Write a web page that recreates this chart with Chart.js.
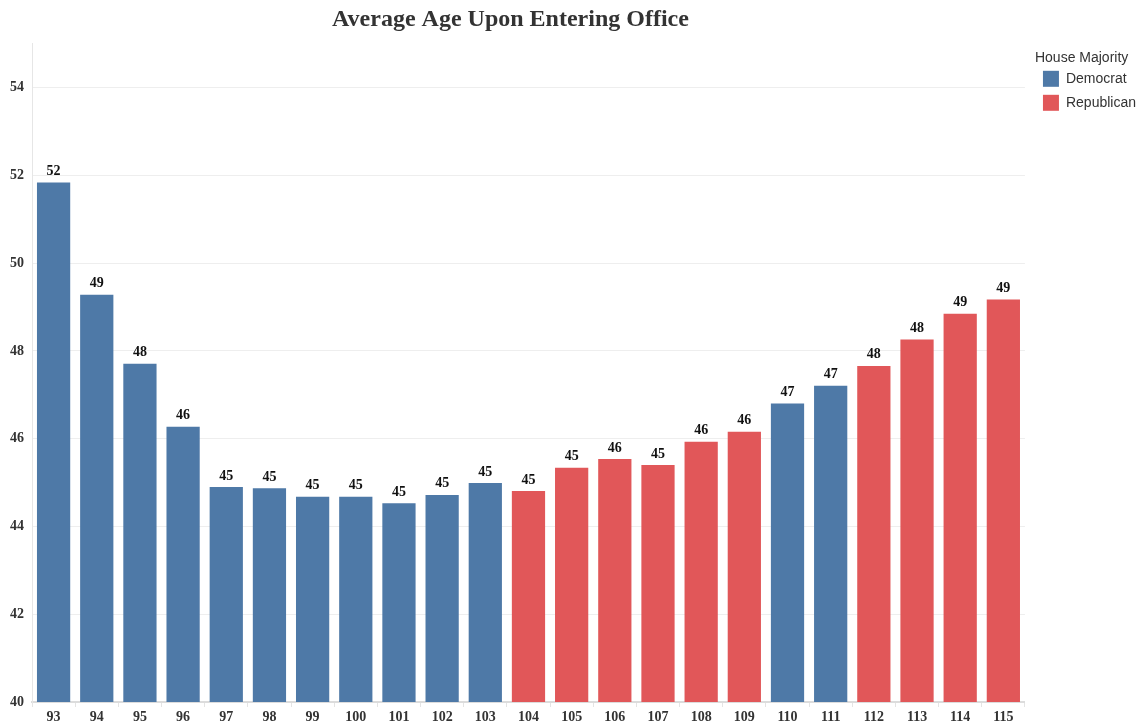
<!DOCTYPE html>
<html>
<head>
<meta charset="utf-8">
<script src="https://cdn.jsdelivr.net/npm/chart.js@4"></script>
<style>
  html, body { margin: 0; padding: 0; background: #fff; }
  #wrap { width: 1147px; height: 723px; }
</style>
</head>
<body>
<div id="wrap"><canvas id="ageChart" width="1147" height="723"></canvas></div>
<script>
// Congress number, average age on entering office, house majority
const congresses = ['93', '94', '95', '96', '97', '98', '99', '100', '101', '102', '103', '104',
  '105', '106', '107', '108', '109', '110', '111', '112', '113', '114', '115'];
const avgAge = [51.84, 49.28, 47.71, 46.27, 44.9, 44.87, 44.68, 44.68, 44.53, 44.72, 44.99, 44.81,
  45.34, 45.54, 45.4, 45.93, 46.16, 46.8, 47.21, 47.66, 48.26, 48.85, 49.17];
const majority = ['D', 'D', 'D', 'D', 'D', 'D', 'D', 'D', 'D', 'D', 'D', 'R',
  'R', 'R', 'R', 'R', 'R', 'D', 'D', 'R', 'R', 'R', 'R'];
const yTicks = [40, 42, 44, 46, 48, 50, 52, 54];

const partyColors = { D: '#4e79a7', R: '#e15759' };
const partyNames = { D: 'Democrat', R: 'Republican' };

const serif = 'Liberation Serif';
const sans = 'Liberation Sans';

// value labels above bars
const barLabels = {
  id: 'barLabels',
  afterDatasetsDraw(chart) {
    const { ctx } = chart;
    const meta = chart.getDatasetMeta(0);
    ctx.save();
    ctx.font = `bold 14px "${serif}"`;
    ctx.fillStyle = '#111';
    ctx.textAlign = 'center';
    ctx.textBaseline = 'bottom';
    meta.data.forEach((bar, i) => {
      ctx.fillText(Math.round(avgAge[i]), bar.x, bar.y - 4);
    });
    ctx.restore();
  }
};

new Chart(document.getElementById('ageChart'), {
  type: 'bar',
  data: {
    labels: congresses,
    datasets: [{
      label: 'Average Age',
      data: avgAge,
      backgroundColor: majority.map(p => partyColors[p]),
      barPercentage: 0.77,
      categoryPercentage: 1
    }]
  },
  options: {
    responsive: false,
    animation: false,
    layout: { padding: { left: 0, right: 1, top: 0, bottom: 0 } },
    plugins: {
      title: {
        display: true,
        fullSize: false,
        // trailing spaces nudge the centred title a little to the left, as in the original
        text: 'Average Age Upon Entering Office\u00a0\u00a0\u00a0\u00a0\u00a0\u00a0',
        color: '#333',
        font: { family: serif, size: 24, weight: 'bold' },
        padding: { top: 5, bottom: 10 }
      },
      legend: {
        position: 'right',
        align: 'start',
        title: {
          display: true,
          text: 'House Majority',
          position: 'start',
          color: '#333',
          font: { family: sans, size: 14 },
          padding: { top: 51, bottom: -5 }
        },
        labels: {
          color: '#333',
          font: { family: sans, size: 14 },
          boxWidth: 16,
          boxHeight: 16,
          padding: 8,
          generateLabels: () => ['D', 'R'].map(p => ({
            text: partyNames[p],
            fillStyle: partyColors[p],
            strokeStyle: partyColors[p],
            lineWidth: 0,
            hidden: false
          }))
        },
        onClick: () => {}
      },
      tooltip: { enabled: false }
    },
    scales: {
      x: {
        afterFit: (scale) => { scale.height = 21; },
        grid: {
          display: true,
          drawOnChartArea: false,
          drawTicks: true,
          tickLength: 5,
          color: '#e4e4e4'
        },
        border: { color: '#dcdcdc', width: 2 },
        ticks: {
          color: '#333',
          font: { family: serif, size: 14, weight: 'bold' },
          padding: 2,
          maxRotation: 0
        }
      },
      y: {
        min: 40,
        max: 55,
        afterBuildTicks: (scale) => { scale.ticks = yTicks.map(v => ({ value: v })); },
        afterFit: (scale) => { scale.width = 32; },
        grid: { color: '#eeeeee', drawTicks: false },
        border: { color: '#e6e6e6' },
        ticks: {
          color: '#333',
          font: { family: serif, size: 14, weight: 'bold' },
          padding: 8
        }
      },
      // empty right-hand axis: only leaves a gap between the plot and the legend
      gap: {
        type: 'linear',
        position: 'right',
        afterFit: (scale) => { scale.width = 10; },
        grid: { display: false },
        border: { display: false },
        ticks: { display: false }
      }
    }
  },
  plugins: [barLabels]
});
</script>
</body>
</html>
